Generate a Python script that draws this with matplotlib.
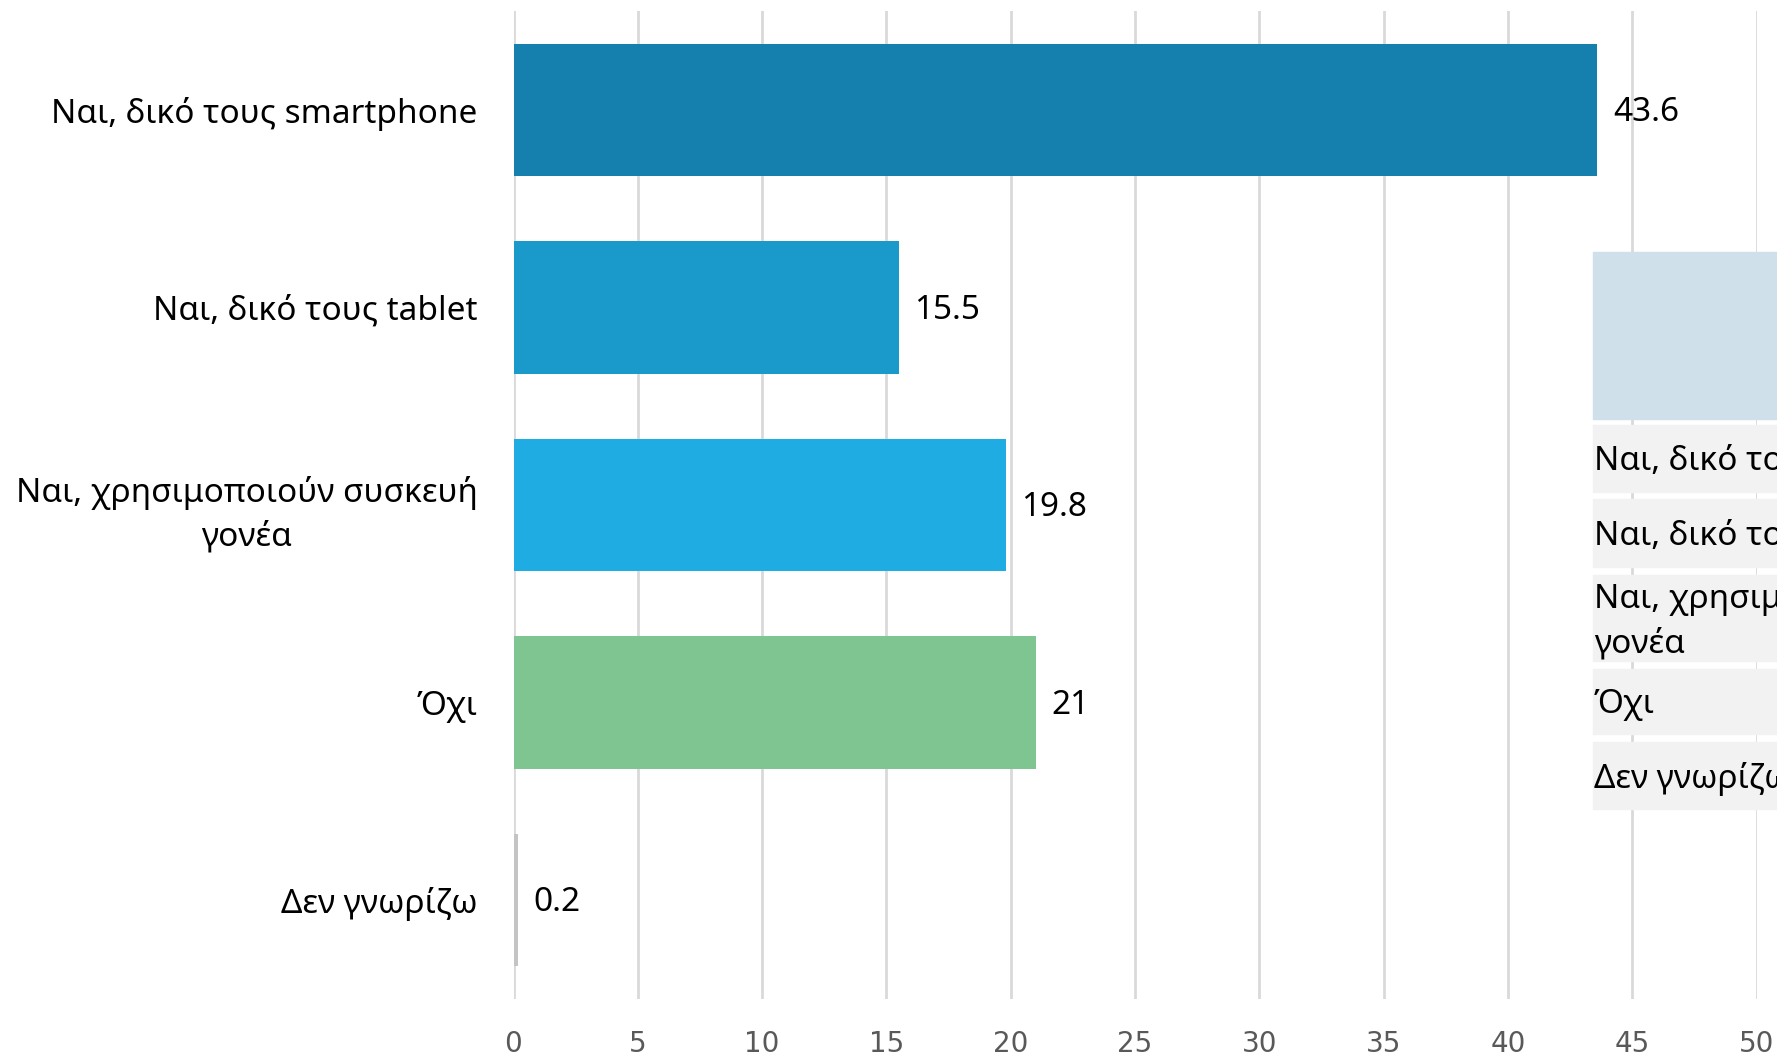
import matplotlib
matplotlib.use("Agg")
import matplotlib.pyplot as plt
from matplotlib.patches import Rectangle

categories = ["Ναι, δικό τους smartphone", "Ναι, δικό τους tablet",
              "Ναι, χρησιμοποιούν συσκευή\nγονέα", "Όχι", "Δεν γνωρίζω"]
values = [43.6, 15.5, 19.8, 21, 0.2]
value_labels = ["43.6", "15.5", "19.8", "21", "0.2"]
colors = ["#1580AE", "#1A9ACB", "#1EACE3", "#7FC592", "#C4C4C4"]
xticks = [0, 5, 10, 15, 20, 25, 30, 35, 40, 45, 50]

W, H = 1777, 1056
FONT = ["Noto Sans", "DejaVu Sans"]
fig = plt.figure(figsize=(W / 100, H / 100), dpi=100)
ax = fig.add_axes([513.5 / W, 1 - 999 / H, (1756.6 - 513.5) / W, (999 - 11) / H])

ypos = list(range(len(categories)))
ax.barh(ypos, values, height=0.67, color=colors, zorder=2)
ax.set_ylim(len(categories) - 0.5, -0.5)
ax.set_xlim(0, 50)
ax.set_xticks(xticks)
ax.set_xticklabels([str(t) for t in xticks],
                   fontfamily=["Liberation Sans Narrow", "DejaVu Sans"],
                   fontsize=20, color="#595959")
ax.tick_params(axis="x", length=0, pad=22)
ax.set_yticks(ypos)
ax.set_yticklabels(categories, fontfamily=FONT, fontsize=24, color="#000000",
                   multialignment="center", linespacing=1.45)
ax.tick_params(axis="y", length=0, pad=26)
ax.grid(axis="x", color="#D9D9D9", linewidth=2, zorder=0)
for s in ax.spines.values():
    s.set_visible(False)

for y, v, lab in zip(ypos, values, value_labels):
    ax.annotate(lab, (v, y), xytext=(11, -2), textcoords="offset points",
                ha="left", va="center", fontsize=24, fontfamily=FONT,
                color="#000000")

# overlaid (cropped) data table on the right
tx = 1593
fig.patches.append(Rectangle((tx / W, 1 - 419 / H), (W - tx) / W, (419 - 252) / H,
                             transform=fig.transFigure, color="#D0E0EA", zorder=5))
rows = [(425, 492), (499, 567), (575, 661), (669, 734), (742, 809)]
for (y0, y1), cat in zip(rows, categories):
    fig.patches.append(Rectangle((tx / W, 1 - y1 / H), (W - tx) / W, (y1 - y0) / H,
                                 transform=fig.transFigure, color="#F2F2F2", zorder=5))
    fig.text((tx + 1) / W, 1 - ((y0 + y1) / 2 + 3) / H, cat, ha="left", va="center",
             fontsize=24, fontfamily=FONT, color="#000000",
             zorder=6, linespacing=1.45)

fig.savefig("out.png", dpi=100, facecolor="white")
